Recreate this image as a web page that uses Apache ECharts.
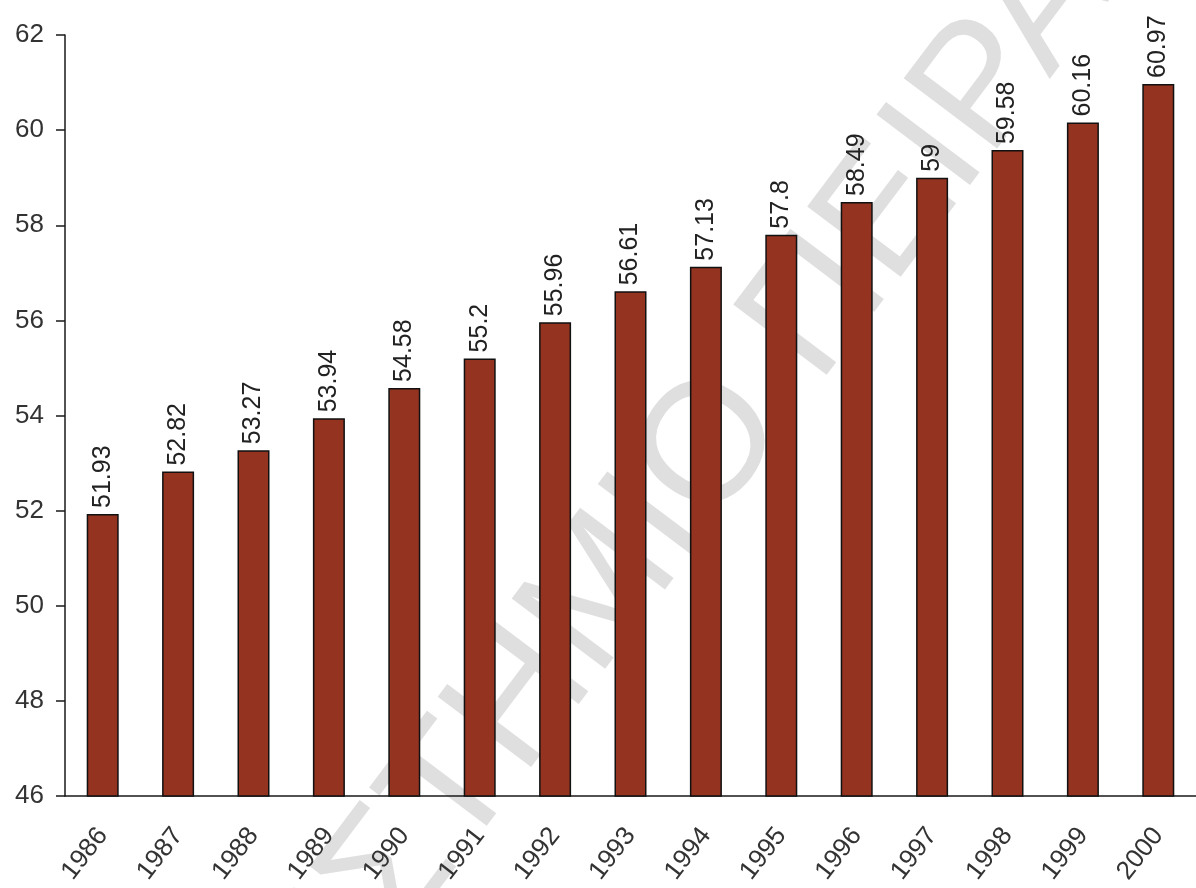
<!DOCTYPE html>
<html>
<head>
<meta charset="utf-8">
<script src="https://cdn.jsdelivr.net/npm/echarts@6/dist/echarts.min.js"></script>
<style>
html,body{margin:0;padding:0;background:#fff;}
#chart{width:1196px;height:888px;}
</style>
</head>
<body>
<div id="chart"></div>
<script>
var years = ['1986','1987','1988','1989','1990','1991','1992','1993','1994','1995','1996','1997','1998','1999','2000'];
var values = [51.93, 52.82, 53.27, 53.94, 54.58, 55.2, 55.96, 56.61, 57.13, 57.8, 58.49, 59, 59.58, 60.16, 60.97];
var yTicks = {min: 46, max: 62, interval: 2};
var watermarkText = 'ΠΑΝΕΠΙΣΤΗΜΙΟ ΠΕΙΡΑΙΑ';

var FONT = '"Liberation Sans", Arial, sans-serif';
var chart = echarts.init(document.getElementById('chart'));
chart.setOption({
  backgroundColor: '#ffffff',
  animation: false,
  grid: {left: 65, top: 35, bottom: 92, width: 1138},
  xAxis: {
    type: 'category',
    data: years,
    boundaryGap: true,
    axisLine: {lineStyle: {color: '#1a1a1a', width: 1.5}},
    axisTick: {alignWithLabel: false, length: 8, lineStyle: {color: '#1a1a1a', width: 1.5}},
    axisLabel: {rotate: 52, margin: 35, fontSize: 26, color: '#333', fontFamily: FONT, interval: 0}
  },
  yAxis: {
    type: 'value',
    min: yTicks.min, max: yTicks.max, interval: yTicks.interval,
    splitLine: {show: false},
    axisLine: {show: true, lineStyle: {color: '#1a1a1a', width: 1.5}},
    axisTick: {show: true, length: 9, lineStyle: {color: '#1a1a1a', width: 1.5}},
    axisLabel: {margin: 21, fontSize: 26, color: '#333', fontFamily: FONT}
  },
  series: [{
    type: 'bar',
    data: values,
    barWidth: 32,
    itemStyle: {color: '#933320', borderColor: '#111', borderWidth: 1.5},
    label: {
      show: true,
      position: 'top',
      rotate: 90,
      align: 'left',
      verticalAlign: 'middle',
      distance: 6,
      fontSize: 25,
      color: '#222',
      fontFamily: FONT
    }
  }],
  graphic: [{
    type: 'group',
    x: 682, y: 474,
    rotation: 53 * Math.PI / 180,
    z: 100,
    silent: true,
    children: [{
      type: 'text',
      style: {
        text: watermarkText,
        x: -1190, y: 9,
        textAlign: 'left',
        textVerticalAlign: 'middle',
        font: '170px ' + FONT,
        fill: 'rgba(191,191,191,0.5)'
      }
    }]
  }]
});
</script>
</body>
</html>
